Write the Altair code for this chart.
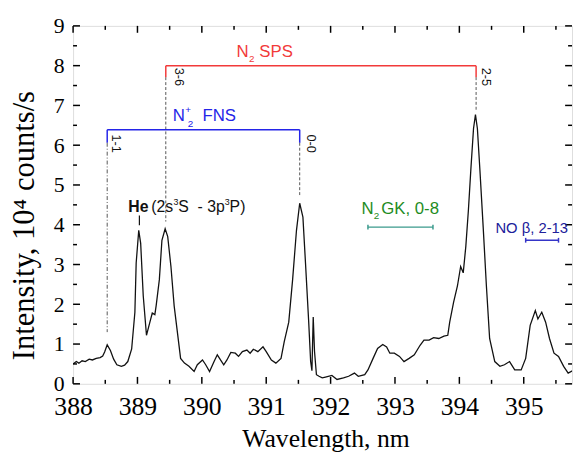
import altair as alt
import pandas as pd

# ---------------- data ----------------
wavelength = [388.00, 388.05, 388.09, 388.14, 388.19, 388.25, 388.30, 388.36, 388.42, 388.46,
              388.49, 388.53, 388.58, 388.63, 388.68, 388.75, 388.80, 388.85, 388.91, 388.96,
              388.98, 389.02, 389.05, 389.09, 389.14, 389.18, 389.23, 389.27, 389.29, 389.34,
              389.38, 389.43, 389.47, 389.52, 389.57, 389.62, 389.67, 389.73, 389.80, 389.88,
              389.93, 390.01, 390.06, 390.12, 390.19, 390.24, 390.29, 390.34, 390.39, 390.45,
              390.52, 390.57, 390.63, 390.70, 390.75, 390.80, 390.87, 390.95, 391.00, 391.08,
              391.15, 391.23, 391.28, 391.35, 391.41, 391.47, 391.52, 391.57, 391.61, 391.66,
              391.69, 391.71, 391.73, 391.75, 391.78, 391.82, 391.87, 391.92, 392.02, 392.10,
              392.20, 392.28, 392.37, 392.43, 392.53, 392.58, 392.66, 392.73, 392.81, 392.87,
              392.92, 392.99, 393.07, 393.14, 393.22, 393.30, 393.39, 393.45, 393.53, 393.60,
              393.68, 393.76, 393.82, 393.85, 393.91, 393.97, 394.02, 394.06, 394.10, 394.14,
              394.18, 394.22, 394.25, 394.28, 394.32, 394.37, 394.42, 394.47, 394.55, 394.63,
              394.70, 394.78, 394.86, 394.96, 395.03, 395.10, 395.18, 395.22, 395.28, 395.34,
              395.40, 395.47, 395.54, 395.62, 395.69, 395.78]
intensity = [0.50, 0.56, 0.52, 0.58, 0.56, 0.62, 0.60, 0.64, 0.66, 0.70,
             0.80, 0.98, 0.84, 0.62, 0.48, 0.44, 0.47, 0.56, 0.88, 1.80,
             3.04, 3.86, 3.53, 2.21, 1.22, 1.47, 1.78, 1.74, 1.96, 2.62,
             3.61, 3.90, 3.70, 2.95, 1.96, 1.30, 0.64, 0.52, 0.44, 0.31,
             0.48, 0.60, 0.48, 0.31, 0.56, 0.73, 0.60, 0.48, 0.60, 0.79,
             0.77, 0.69, 0.81, 0.85, 0.77, 0.87, 0.81, 0.93, 0.81, 0.60,
             0.52, 0.64, 1.06, 1.55, 2.62, 3.86, 4.54, 4.19, 3.04, 1.55,
             0.56, 0.33, 1.68, 0.82, 0.23, 0.19, 0.15, 0.17, 0.21, 0.11,
             0.15, 0.19, 0.27, 0.19, 0.23, 0.35, 0.64, 0.89, 0.99, 0.93,
             0.77, 0.77, 0.69, 0.56, 0.64, 0.73, 0.97, 1.10, 1.10, 1.16,
             1.14, 1.20, 1.22, 1.55, 2.05, 2.46, 2.95, 2.79, 3.45, 4.36,
             5.43, 6.42, 6.77, 6.42, 5.35, 3.94, 2.46, 1.14, 0.56, 0.44,
             0.48, 0.56, 0.35, 0.35, 0.64, 1.47, 1.84, 1.63, 1.80, 1.55,
             1.14, 0.77, 0.69, 0.44, 0.27, 0.35]

x_major = [388, 389, 390, 391, 392, 393, 394, 395]
x_minor = [388.5, 389.5, 390.5, 391.5, 392.5, 393.5, 394.5, 395.5]
y_major = [0, 1, 2, 3, 4, 5, 6, 7, 8, 9]
y_minor = [0.5, 1.5, 2.5, 3.5, 4.5, 5.5, 6.5, 7.5, 8.5]

# band positions (nm) and bracket heights
sps_lines = [389.44, 394.26]
sps_labels = ["3-6", "2-5"]
fns_lines = [388.53, 391.52]
fns_labels = ["1-1", "0-0"]
he_line = 389.03
gk_range = [392.58, 393.59]
no_range = [395.03, 395.54]

W, H = 506, 363
XD = [388, 395.75]
YD = [0, 9]
SANS = "Liberation Sans"
SERIF = "Liberation Serif"
NB = "\u00a0"

xs = alt.Scale(domain=XD, nice=False, zero=False)
ys = alt.Scale(domain=YD, nice=False, zero=False)

spec = pd.DataFrame({"wl": wavelength, "I": intensity})

base = alt.Chart(spec).mark_line(color="#111111", strokeWidth=1.3, clip=True).encode(
    x=alt.X("wl:Q", scale=xs,
            axis=alt.Axis(values=x_major, format="d", ticks=False, domain=False, grid=False,
                          title="Wavelength, nm", labelFont=SERIF, labelFontSize=26,
                          labelColor="black", labelPadding=10, titleFont=SERIF,
                          titleFontSize=26, titleFontWeight="normal", titleColor="black",
                          titleX=256, titleY=64, titleBaseline="alphabetic",
                          labelFlush=False)),
    y=alt.Y("I:Q", scale=ys,
            axis=alt.Axis(values=y_major, format="d", ticks=False, domain=False, grid=False,
                          title="Intensity, 10⁴ counts/s", labelFont=SERIF, labelFontSize=22,
                          labelColor="black", labelPadding=9, titleFont=SERIF,
                          titleFontSize=31, titleFontWeight="normal", titleColor="black",
                          titleX=-40, titleY=202, titleBaseline="alphabetic",
                          titleAngle=270, labelFlush=False)),
)

layers = [base]

# ticks (inward) on all four sides
def xticks(vals, length):
    d = pd.DataFrame({"v": vals})
    b = alt.Chart(d).mark_rule(color="black", strokeWidth=1.5)
    return [b.encode(x=alt.X("v:Q", scale=xs), y=alt.value(H), y2=alt.value(H - length)),
            b.encode(x=alt.X("v:Q", scale=xs), y=alt.value(0), y2=alt.value(length))]

def yticks(vals, length):
    d = pd.DataFrame({"v": vals})
    b = alt.Chart(d).mark_rule(color="black", strokeWidth=1.5)
    return [b.encode(y=alt.Y("v:Q", scale=ys), x=alt.value(0), x2=alt.value(length)),
            b.encode(y=alt.Y("v:Q", scale=ys), x=alt.value(W), x2=alt.value(W - length))]

layers += xticks(x_major, 7) + xticks(x_minor, 4) + yticks(y_major, 7) + yticks(y_minor, 4)

def seg(x1, y1, x2, y2, color, width=1.5, dash=None):
    d = pd.DataFrame({"x": [x1], "y": [y1], "x2": [x2], "y2": [y2]})
    kw = dict(color=color, strokeWidth=width)
    if dash:
        kw["strokeDash"] = dash
    return alt.Chart(d).mark_rule(**kw).encode(
        x=alt.X("x:Q", scale=xs), y=alt.Y("y:Q", scale=ys), x2="x2:Q", y2="y2:Q")

def txt(x, y, t, size, color, dx=0, dy=0, weight="normal", angle=0, align="left",
        baseline="alphabetic", font=SANS):
    d = pd.DataFrame({"x": [x], "y": [y], "t": [t]})
    kw = dict(fontSize=size, color=color, dx=dx, dy=dy, fontWeight=weight, align=align,
              baseline=baseline, font=font)
    if angle:
        kw["angle"] = angle
    return alt.Chart(d).mark_text(**kw).encode(
        x=alt.X("x:Q", scale=xs), y=alt.Y("y:Q", scale=ys), text="t:N")

RED = "#f23a3a"
BLUE = "#2424e8"
GRAY = "#555555"

# N2 SPS bracket
layers.append(seg(sps_lines[0], 8.0, sps_lines[1], 8.0, RED))
layers.append(seg(sps_lines[0], 8.0, sps_lines[0], 7.71, RED))
layers.append(seg(sps_lines[1], 8.0, sps_lines[1], 7.71, RED))
layers.append(seg(sps_lines[0], 7.71, sps_lines[0], 4.08, GRAY, 1, [3, 2]))
layers.append(seg(sps_lines[1], 7.71, sps_lines[1], 6.85, GRAY, 1, [3, 2]))
layers.append(txt(sps_lines[0], 7.95, sps_labels[0], 13, "#111", angle=90,
                  baseline="bottom", dy=-6))
layers.append(txt(sps_lines[1], 7.95, sps_labels[1], 13, "#111", angle=90,
                  baseline="bottom", dy=-3))
layers.append(txt(390.54, 8.21, "N", 17, RED))
layers.append(txt(390.54, 8.21, "2", 10, RED, dx=12.5, dy=5))
layers.append(txt(390.54, 8.21, "SPS", 17, RED, dx=23))

# N2+ FNS bracket
layers.append(seg(fns_lines[0], 6.39, fns_lines[1], 6.39, BLUE))
layers.append(seg(fns_lines[0], 6.39, fns_lines[0], 6.06, BLUE))
layers.append(seg(fns_lines[1], 6.39, fns_lines[1], 6.06, BLUE))
layers.append(seg(fns_lines[0], 6.06, fns_lines[0], 1.3, GRAY, 1, [4, 2, 1, 2]))
layers.append(seg(fns_lines[1], 6.06, fns_lines[1], 4.72, GRAY, 1, [3, 2]))
layers.append(txt(fns_lines[0], 6.27, fns_labels[0], 13, "#111", angle=90,
                  baseline="bottom", dy=-2))
layers.append(txt(fns_lines[1], 6.27, fns_labels[1], 13, "#111", angle=90,
                  baseline="bottom", dy=-4))
layers.append(txt(389.55, 6.61, "N", 17, BLUE))
layers.append(txt(389.55, 6.61, "+", 10, BLUE, dx=12.5, dy=-8))
layers.append(txt(389.55, 6.61, "2", 10, BLUE, dx=15, dy=6))
layers.append(txt(389.55, 6.61, "FNS", 17, BLUE, dx=30))

# He line
layers.append(seg(he_line, 4.23, he_line, 3.99, "#111", 1.2))
layers.append(txt(he_line, 4.32, "He", 16, "#111", weight="bold", align="center", dx=-1))
layers.append(txt(he_line, 4.32, "(2s", 16, "#111", dx=12))
layers.append(txt(he_line, 4.32, "3", 9, "#111", dx=34.5, dy=-7))
layers.append(txt(he_line, 4.32, "S" + NB + NB + "-" + NB + "3p", 16, "#111", dx=39.5))
layers.append(txt(he_line, 4.32, "3", 9, "#111", dx=86.5, dy=-7))
layers.append(txt(he_line, 4.32, "P)", 16, "#111", dx=91.5))

# N2 GK
GREEN = "#1e8c1e"
TEAL = "#3a9a8c"
gk_y = 3.94
layers.append(seg(gk_range[0], gk_y, gk_range[1], gk_y, TEAL, 1.5))
layers.append(seg(gk_range[0], gk_y - 0.06, gk_range[0], gk_y + 0.06, TEAL, 1.5))
layers.append(seg(gk_range[1], gk_y - 0.06, gk_range[1], gk_y + 0.06, TEAL, 1.5))
layers.append(txt(392.48, 4.28, "N", 17, GREEN))
layers.append(txt(392.48, 4.28, "2", 10, GREEN, dx=12.5, dy=5))
layers.append(txt(392.48, 4.28, "GK, 0-8", 17, GREEN, dx=20))

# NO beta
NAVY = "#20209a"
NOB = "#3535c8"
no_y = 3.61
layers.append(seg(no_range[0], no_y, no_range[1], no_y, NOB, 1.5))
layers.append(seg(no_range[0], no_y - 0.06, no_range[0], no_y + 0.06, NOB, 1.5))
layers.append(seg(no_range[1], no_y - 0.06, no_range[1], no_y + 0.06, NOB, 1.5))
layers.append(txt(394.56, 3.79, "NO β, 2-13", 15, NAVY))

chart = alt.layer(*layers).properties(
    width=W, height=H,
    autosize=alt.AutoSizeParams(type="none"),
    padding={"left": 66, "top": 15, "right": 2, "bottom": 66},
).configure_view(stroke="black", strokeWidth=1.5).configure(background="white")

chart.save("out.html", embed_options={"renderer": "svg", "actions": False})
